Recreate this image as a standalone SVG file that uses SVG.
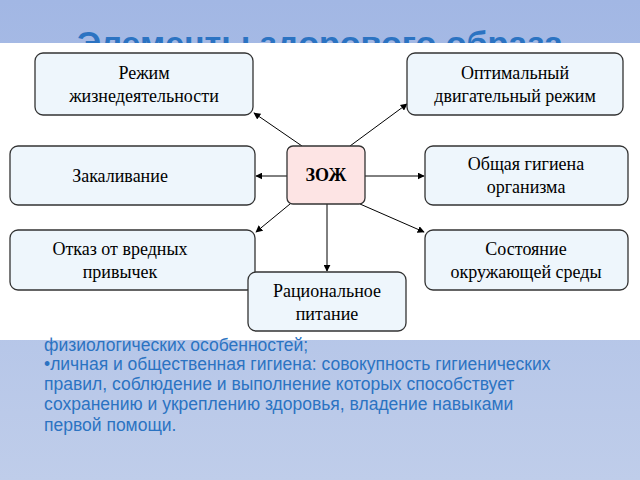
<svg xmlns="http://www.w3.org/2000/svg" width="640" height="480" viewBox="0 0 640 480">
<defs>
<linearGradient id="bg" x1="0" y1="0" x2="0" y2="1"><stop offset="0" stop-color="#a2b7e4"/><stop offset="1" stop-color="#bfcdea"/></linearGradient>
<marker id="ah" viewBox="0 0 10 10" refX="9" refY="5" markerWidth="7" markerHeight="7" orient="auto"><path d="M0,0L10,5L0,10z" fill="#000"/></marker>
</defs>
<style>
.n{fill:#eef6fc;stroke:#333;stroke-width:1.3}
.t{font-family:"Liberation Serif",serif;font-size:18px;fill:#000;text-anchor:middle}
.c line{stroke:#000;stroke-width:1;marker-end:url(#ah)}
.b{font-family:"Liberation Sans",sans-serif;font-size:17.5px;fill:#2b73c2}
</style>
<rect width="640" height="480" fill="url(#bg)"/>
<text x="320" y="55" font-family="Liberation Sans,sans-serif" font-size="34" font-weight="bold" fill="#2b73c2" text-anchor="middle">Элементы здорового образа</text>
<rect x="0" y="43" width="640" height="297" fill="#fff"/>
<g class="c">
<line x1="302" y1="146" x2="254" y2="113"/>
<line x1="350" y1="146" x2="407" y2="104"/>
<line x1="287" y1="176" x2="256" y2="176"/>
<line x1="365" y1="176" x2="424" y2="176"/>
<line x1="290" y1="204" x2="256" y2="232"/>
<line x1="360" y1="204" x2="424" y2="232"/>
<line x1="327" y1="204" x2="327" y2="271"/>
</g>
<g id="n1"><rect class="n" x="35" y="53" width="218" height="62" rx="8"/><text class="t" x="144" y="79">Режим</text><text class="t" x="144" y="102">жизнедеятельности</text></g>
<g id="n2"><rect class="n" x="407" y="53" width="216" height="62" rx="8"/><text class="t" x="515" y="79">Оптимальный</text><text class="t" x="515" y="102">двигательный режим</text></g>
<g id="n3"><rect class="n" x="10" y="146" width="245" height="59" rx="8"/><text class="t" x="120" y="182">Закаливание</text></g>
<g id="n4"><rect x="287" y="146" width="78" height="58" rx="6" fill="#fde4e4" stroke="#333" stroke-width="1.3"/><text class="t" x="326" y="181" font-weight="bold">ЗОЖ</text></g>
<g id="n5"><rect class="n" x="425" y="146" width="203" height="59" rx="8"/><text class="t" x="526" y="170">Общая гигиена</text><text class="t" x="526" y="193">организма</text></g>
<g id="n6"><rect class="n" x="10" y="230" width="245" height="60" rx="8"/><text class="t" x="120" y="255">Отказ от вредных</text><text class="t" x="120" y="278">привычек</text></g>
<g id="n7"><rect class="n" x="425" y="230" width="203" height="60" rx="8"/><text class="t" x="526" y="255">Состояние</text><text class="t" x="526" y="278">окружающей среды</text></g>
<g id="n8"><rect class="n" x="248" y="272" width="158" height="59" rx="8"/><text class="t" x="327" y="297">Рациональное</text><text class="t" x="327" y="320">питание</text></g>
<text class="b" x="44" y="351">физиологических особенностей;</text>
<text class="b" x="44" y="370">•личная и общественная гигиена: совокупность гигиенических</text>
<text class="b" x="44" y="390">правил, соблюдение и выполнение которых способствует</text>
<text class="b" x="44" y="410">сохранению и укреплению здоровья, владение навыками</text>
<text class="b" x="44" y="431">первой помощи.</text>
</svg>
